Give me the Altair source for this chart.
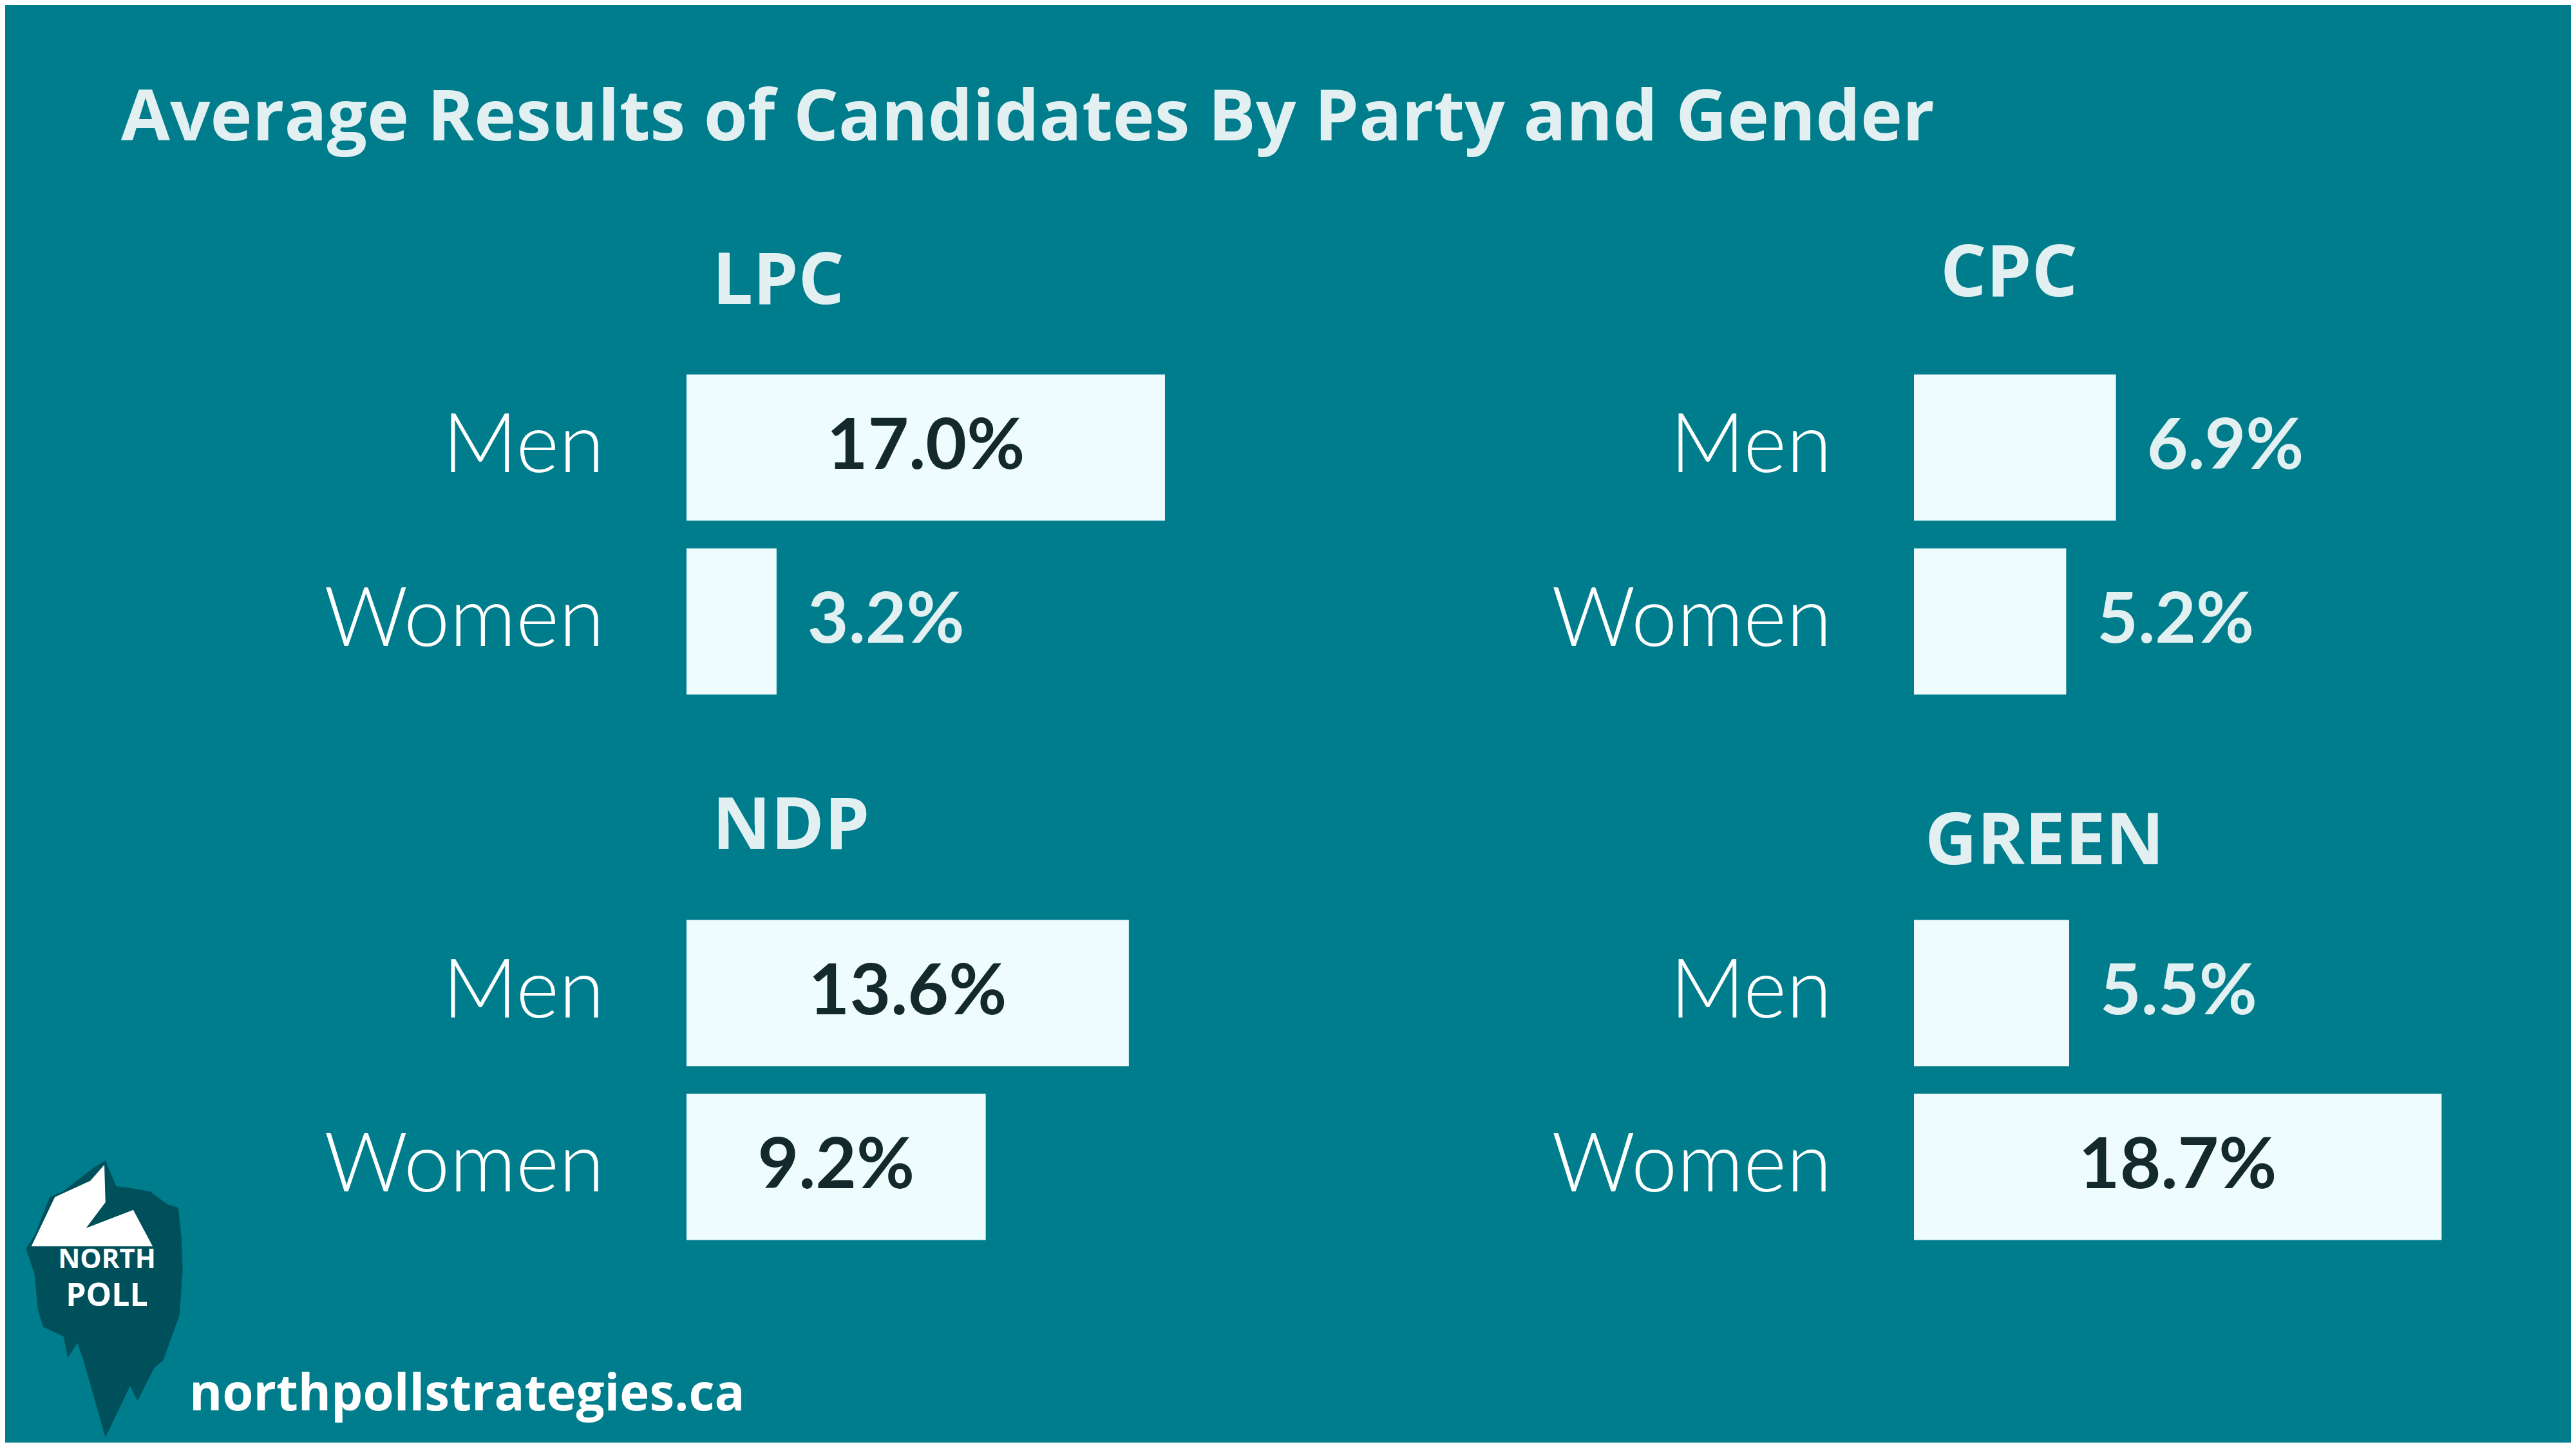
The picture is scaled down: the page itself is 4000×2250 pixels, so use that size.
import altair as alt
import pandas as pd

# ---- data ----
parties = ["LPC", "CPC", "NDP", "GREEN"]
genders = ["Men", "Women"]
men_values = [17.0, 6.9, 13.6, 5.5]
women_values = [3.2, 5.2, 9.2, 18.7]

chart_title = "Average Results of Candidates By Party and Gender"
brand_lines = ["NORTH", "POLL"]
site = ["northpollstrategies.ca"]

# ---- style ----
BG = "#007D8C"
BAR = "#EEFCFD"
LIGHT = "#E2F0F2"
DARK = "#13292C"
LOGO_DARK = "#00505B"
FONT = "Lato"
HEAD_FONT = "Open Sans"

PANEL_W = 850
PANEL_H = 540
AXIS_EXTENT = 1030
# per-panel scale maxima (the original panels are not drawn on one common scale)
x_max = [19.45, 18.7, 16.83, 19.4]
title_offset = [10, 22, 11, -13]
title_dx = [40, 41, 40, 17]

BODY_PATH = (
    "M0.008,-1 L0.085,-0.814 L0.209,-0.798 L0.333,-0.775 L0.457,-0.682 "
    "L0.535,-0.659 L0.558,-0.426 L0.566,-0.209 L0.543,0.116 L0.426,0.442 "
    "L0.357,0.504 L0.24,0.736 L0.186,0.628 L0.008,1 L-0.147,0.457 "
    "L-0.194,0.318 L-0.264,0.426 L-0.295,0.271 L-0.442,0.202 L-0.481,0.07 "
    "L-0.504,-0.178 L-0.566,-0.364 L-0.504,-0.457 L-0.395,-0.736 "
    "L-0.302,-0.775 L-0.07,-0.953 Z"
)
PEAK_PATH = (
    "M0,-0.969 L-0.101,-0.853 L-0.357,-0.736 L-0.527,-0.38 L0.349,-0.38 "
    "L0.209,-0.643 L-0.132,-0.512 L0.008,-0.698 Z"
)


def panel(i):
    df = pd.DataFrame({"gender": genders, "value": [men_values[i], women_values[i]]})
    xscale = alt.Scale(domain=[0, x_max[i]], nice=False, zero=True)
    base = alt.Chart(df).encode(
        y=alt.Y(
            "gender:N",
            sort=genders,
            scale=alt.Scale(paddingInner=0.16, paddingOuter=0.08),
            axis=alt.Axis(
                title=None,
                domain=False,
                ticks=False,
                grid=False,
                labelFontSize=128,
                labelFont=FONT,
                labelFontWeight=300,
                labelColor="#FFFFFF",
                labelPadding=128,
                labelLimit=2000,
                minExtent=AXIS_EXTENT,
                maxExtent=AXIS_EXTENT,
            ),
        )
    ).transform_calculate(label="format(datum.value, '.1f') + '%'")

    bars = base.mark_bar(color=BAR).encode(
        x=alt.X("value:Q", scale=xscale, axis=None)
    )
    inside = (
        base.transform_filter("datum.value >= 9")
        .transform_calculate(mid="datum.value / 2")
        .mark_text(font=FONT, fontWeight="bold", fontSize=110, color=DARK,
                   align="center", baseline="middle")
        .encode(x=alt.X("mid:Q", scale=xscale, axis=None), text="label:N")
    )
    outside = (
        base.transform_filter("datum.value < 9")
        .mark_text(font=FONT, fontWeight="bold", fontSize=110, color=LIGHT,
                   align="left", baseline="middle", dx=48)
        .encode(x=alt.X("value:Q", scale=xscale, axis=None), text="label:N")
    )
    return alt.layer(bars, inside, outside).properties(
        width=PANEL_W,
        height=PANEL_H,
        title=alt.TitleParams(
            parties[i],
            anchor="start",
            frame="group",
            dx=title_dx[i],
            offset=title_offset[i],
            baseline="middle",
            font=HEAD_FONT,
            fontWeight="bold",
            fontSize=112,
            color=LIGHT,
        ),
    )


# ---- logo and footer (annotations, attached to the lower-left panel) ----
one = pd.DataFrame({"k": [0]})
logo_body = alt.Chart(one).mark_point(
    shape=BODY_PATH, size=184900, filled=True, color=LOGO_DARK, opacity=1, strokeWidth=0
).encode(x=alt.value(-904), y=alt.value(610))
logo_peak = alt.Chart(one).mark_point(
    shape=PEAK_PATH, size=184900, filled=True, color="#FFFFFF", opacity=1, strokeWidth=0
).encode(x=alt.value(-904), y=alt.value(610))
logo_north = alt.Chart(pd.DataFrame({"t": [brand_lines[0]]})).mark_text(
    font=HEAD_FONT, fontWeight="bold", fontSize=42, color="#FFFFFF", align="center", baseline="middle"
).encode(text="t:N", x=alt.value(-900), y=alt.value(549))
logo_poll = alt.Chart(pd.DataFrame({"t": [brand_lines[1]]})).mark_text(
    font=HEAD_FONT, fontWeight="bold", fontSize=50, color="#FFFFFF", align="center", baseline="middle"
).encode(text="t:N", x=alt.value(-900), y=alt.value(606))
footer = alt.Chart(pd.DataFrame({"t": site})).mark_text(
    font=HEAD_FONT, fontWeight="bold", fontSize=78, color="#FFFFFF", align="left", baseline="alphabetic"
).encode(text="t:N", x=alt.value(-772), y=alt.value(783))

p_lpc = panel(0)
p_cpc = panel(1)
p_ndp = alt.layer(panel(2), logo_body, logo_peak, logo_north, logo_poll, footer)
p_green = panel(3)

row1 = alt.hconcat(p_lpc, p_cpc, spacing=26)
row2 = alt.hconcat(p_ndp, p_green, spacing=26)

chart = (
    alt.vconcat(row1, row2, spacing=128)
    .properties(
        title=alt.TitleParams(
            chart_title,
            anchor="start",
            frame="bounds",
            dx=152,
            offset=75,
            baseline="middle",
            font=HEAD_FONT,
            fontWeight="bold",
            fontSize=110,
            color=LIGHT,
        ),
        background=BG,
        padding={"left": 28, "top": 122, "right": 170, "bottom": 8},
    )
    .configure_view(stroke=None)
)

chart.save("out.html", embed_options={"renderer": "svg", "actions": False})
